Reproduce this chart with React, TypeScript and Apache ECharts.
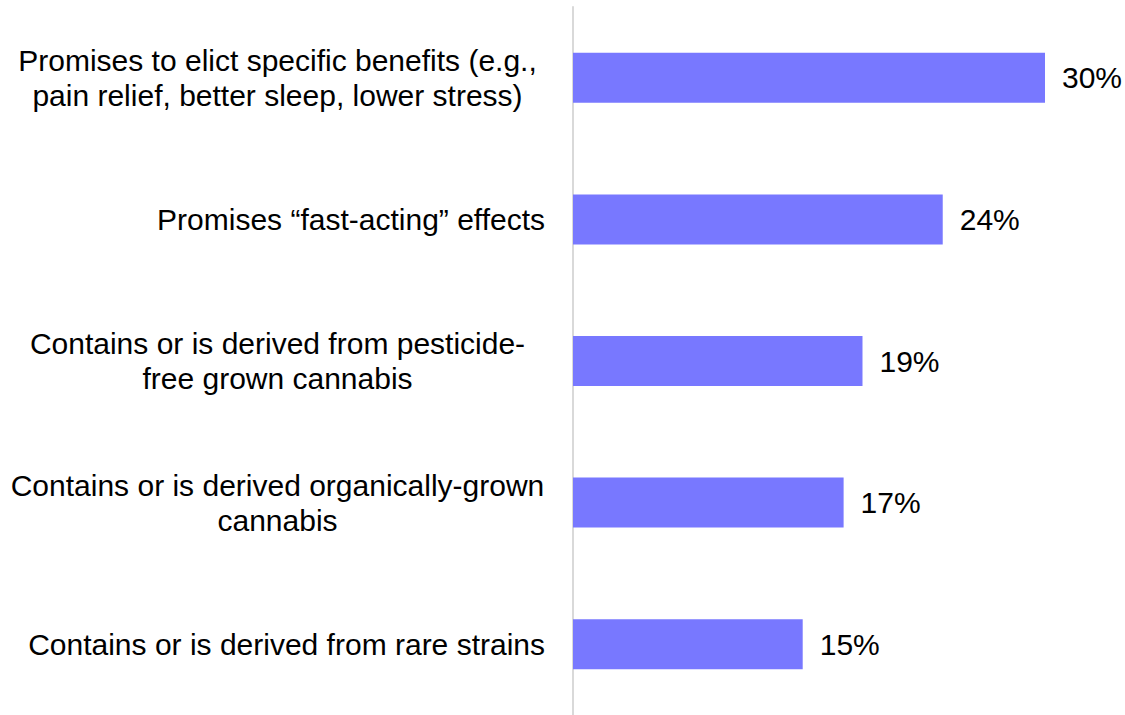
import React, { useEffect, useRef } from "react";
import * as echarts from "echarts";

const categories: string[] = [
  "Promises to elict specific benefits (e.g.,\npain relief, better sleep, lower stress)",
  "Promises “fast-acting” effects",
  "Contains or is derived from pesticide-\nfree grown cannabis",
  "Contains or is derived organically-grown\ncannabis",
  "Contains or is derived from rare strains",
];
const values: number[] = [30, 23.5, 18.4, 17.2, 14.6];
const valueLabels: string[] = ["30%", "24%", "19%", "17%", "15%"];

const FONT = "'Liberation Sans', Arial, sans-serif";

export default function App() {
  const ref = useRef<HTMLDivElement>(null);
  useEffect(() => {
    if (!ref.current) return;
    const chart = echarts.init(ref.current, null, { renderer: "svg" });
    chart.setOption({
      animation: false,
      backgroundColor: "#ffffff",
      grid: { left: 573, right: 80, top: 7, height: 710, containLabel: false },
      xAxis: { type: "value", min: 0, max: 30, show: false },
      yAxis: {
        type: "category",
        inverse: true,
        data: categories,
        axisLine: { show: true, lineStyle: { color: "#d9d9d9", width: 2 } },
        axisTick: { show: false },
        axisLabel: {
          margin: 28,
          fontFamily: FONT,
          fontSize: 30,
          color: "#000000",
          lineHeight: 35,
          width: 535,
          formatter: (v: string) => {
            const lines = v.split("\n");
            if (lines.length === 1) return `{r|${v}}`;
            return lines.map((l) => `{c|${l}}`).join("\n");
          },
          rich: {
            r: { align: "right", fontFamily: FONT, fontSize: 30, color: "#000", lineHeight: 35 },
            c: { align: "center", fontFamily: FONT, fontSize: 30, color: "#000", lineHeight: 35 },
          },
        },
      },
      series: [
        {
          type: "bar",
          data: values,
          barWidth: 50,
          itemStyle: { color: "#7878ff" },
          label: {
            show: true,
            position: "right",
            distance: 17,
            fontFamily: FONT,
            fontSize: 30,
            color: "#000000",
            formatter: (p: any) => valueLabels[p.dataIndex],
          },
        },
      ],
    });
    return () => chart.dispose();
  }, []);
  return (
    <div
      ref={ref}
      style={{ position: "fixed", left: 0, top: 0, width: 1125, height: 715, background: "#fff" }}
    />
  );
}
